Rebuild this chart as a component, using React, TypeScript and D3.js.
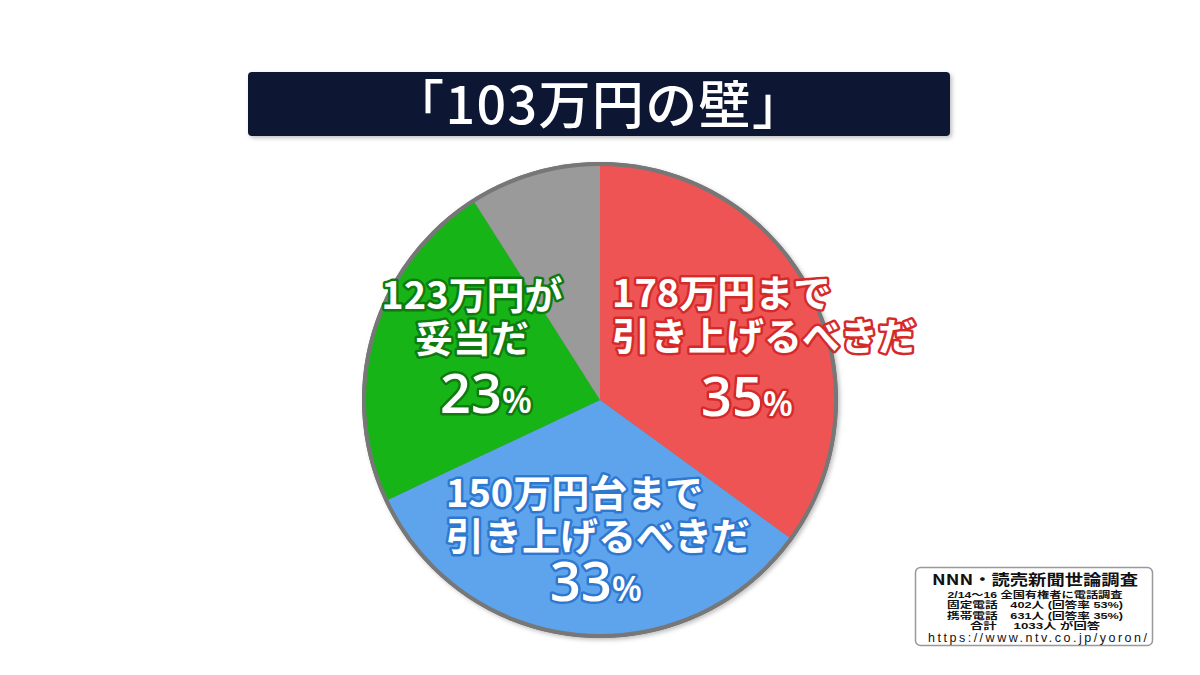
import React from "react";
import * as d3 from "d3";

const categories = ["178万円まで引き上げるべきだ", "150万円台まで引き上げるべきだ", "123万円が妥当だ", "その他・答えない"];
const values = [35, 33, 23, 9];
const colors = ["#ef5454", "#5ea4ec", "#16b417", "#9a9a9a"];
const strokeColors = ["#d42a2a", "#2f78d0", "#0e7a10", "#666"];
const labelLines = [
  ["178万円まで", "引き上げるべきだ"],
  ["150万円台まで", "引き上げるべきだ"],
  ["123万円が", "妥当だ"],
  [],
];
const showPct = [true, true, true, false];
const footTitle = "NNN・読売新聞世論調査";
const footLines = [
  "2/14〜16 全国有権者に電話調査",
  "固定電話　402人 (回答率 53%)",
  "携帯電話　631人 (回答率 35%)",
  "合計　 1033人 が回答",
];
const footUrl = "https://www.ntv.co.jp/yoron/";

const W = 1200, H = 675;
const cx = 600, cy = 400, R = 236;

const labelLayout = [
  { lx: 612, anchor: "start", y0: 307, px: 747, py: 416 },
  { lx: 446, anchor: "start", y0: 507, px: 596, py: 601 },
  { lx: 472, anchor: "middle", y0: 309, px: 486, py: 413 },
  { lx: 0, anchor: "middle", y0: 0, px: 0, py: 0 },
];
const footLineWidths = [175, 176, 176, 130];

const jp = "'Noto Sans CJK JP', 'Noto Sans', sans-serif";
const footFont = "'Liberation Sans', 'Noto Sans CJK JP', sans-serif";

export default function App() {
  const pie = d3.pie<number>().sort(null).value((d) => d);
  const arcs = pie(values);
  const arc = d3.arc<d3.PieArcDatum<number>>().innerRadius(0).outerRadius(R);

  return (
    <svg width={W} height={H} style={{ display: "block", position: "absolute", left: 0, top: 0, background: "#fff" }}>
      <defs>
        <filter id="sh" x="-20%" y="-20%" width="140%" height="140%">
          <feDropShadow dx="2" dy="2" stdDeviation="2" floodColor="#000" floodOpacity="0.25" />
        </filter>
      </defs>
      <rect width={W} height={H} fill="#fff" />
      {/* title */}
      <rect x={248} y={72} width={702} height={64} rx={4} fill="#0c1832" filter="url(#sh)" />
      <text x={392} y={124} textLength={412} lengthAdjust="spacing" fill="#fff" fontFamily={jp} fontSize={52} fontWeight={500}>
        「103万円の壁」
      </text>

      {/* pie */}
      <g transform={`translate(${cx},${cy})`}>
        <circle r={R + 2} fill="#777" filter="url(#sh)" />
        {arcs.map((a, i) => (
          <path key={i} d={arc(a) || ""} fill={colors[i]} />
        ))}
        <circle r={R} fill="none" stroke="#777" strokeWidth={4} />
      </g>

      {/* labels */}
      {arcs.map((a, i) => {
        const L = labelLayout[i];
        return (
          <g key={"l" + i} fill="#fff" stroke={strokeColors[i]} strokeWidth={5} strokeLinejoin="round" style={{ paintOrder: "stroke" }}>
            {labelLines[i].map((t, j) => (
              <text key={j} x={L.lx} y={L.y0 + j * 43} textAnchor={L.anchor as any} fontFamily={jp} fontSize={38} fontWeight={700}>
                {t}
              </text>
            ))}
            {showPct[i] && (
              <text x={L.px} y={L.py} textAnchor="middle" fontFamily="'Open Sans', 'Lato', sans-serif" fontWeight={600}>
                <tspan fontSize={54}>{values[i]}</tspan>
                <tspan fontSize={35}>%</tspan>
              </text>
            )}
          </g>
        );
      })}

      {/* footnote */}
      <rect x={915.5} y={567.5} width={237} height={78} rx={5} fill="#fff" stroke="#999" strokeWidth={1.5} />
      <text x={932} y={585} textLength={206} lengthAdjust="spacingAndGlyphs" fontFamily={jp} fontSize={15} fontWeight={700} fill="#111">
        {footTitle}
      </text>
      {footLines.map((t, i) => (
        <text key={i} x={1035 - footLineWidths[i] / 2} y={597.5 + i * 10.5} textLength={footLineWidths[i]} lengthAdjust="spacingAndGlyphs" fontFamily={footFont} fontSize={9} fontWeight={700} fill="#111">
          {t}
        </text>
      ))}
      <text x={928} y={642} textLength={219} lengthAdjust="spacing" fontFamily="'Liberation Sans', sans-serif" fontSize={12.5} fill="#111">
        {footUrl}
      </text>
    </svg>
  );
}
